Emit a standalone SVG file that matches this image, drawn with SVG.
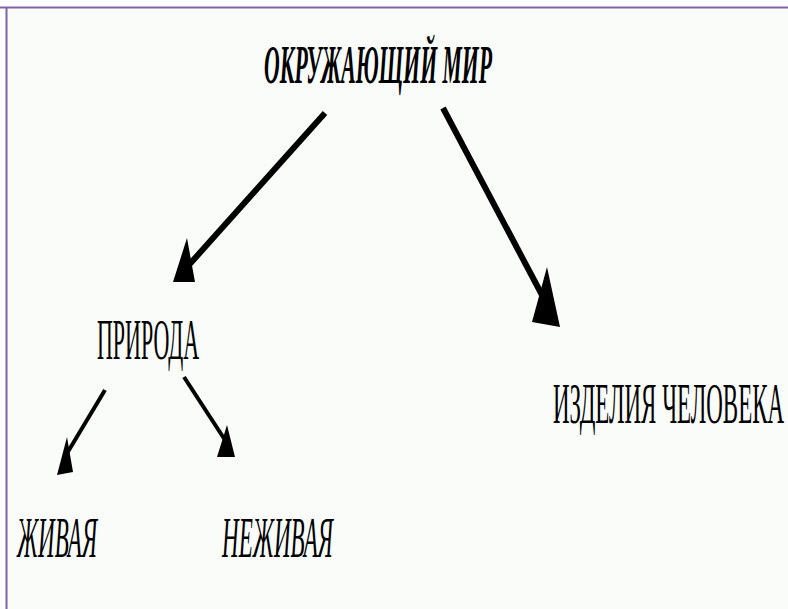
<svg xmlns="http://www.w3.org/2000/svg" width="788" height="609" viewBox="0 0 788 609">
<style>
.t{font-family:"Liberation Serif","DejaVu Serif",serif;fill:#000}
.i{font-style:italic}
.b{font-weight:bold}
.ln{stroke:#000;fill:none;stroke-linecap:butt}
.hd{fill:#000}
</style>
<rect x="0" y="0" width="788" height="609" fill="#ffffff"/>
<rect x="7" y="8" width="781" height="601" fill="#fafcfa"/>
<line x1="0" y1="7.5" x2="788" y2="7.5" stroke="#8064a2" stroke-width="2"/>
<line x1="6.5" y1="7" x2="6.5" y2="609" stroke="#8064a2" stroke-width="2"/>
<g id="node-okruzh"><text class="t i b" x="264" y="83" font-size="54" textLength="228" lengthAdjust="spacingAndGlyphs">ОКРУЖАЮЩИЙ МИР</text></g>
<g id="node-priroda"><text class="t" x="97" y="359" font-size="58" textLength="102" lengthAdjust="spacingAndGlyphs">ПРИРОДА</text></g>
<g id="node-izdelia"><text class="t" x="553" y="423" font-size="58" textLength="231" lengthAdjust="spacingAndGlyphs">ИЗДЕЛИЯ  ЧЕЛОВЕКА</text></g>
<g id="node-zhivaya"><text class="t i" x="17" y="557" font-size="58" textLength="80" lengthAdjust="spacingAndGlyphs">ЖИВАЯ</text></g>
<g id="node-nezhivaya"><text class="t i" x="222" y="557" font-size="58" textLength="111" lengthAdjust="spacingAndGlyphs">НЕЖИВАЯ</text></g>
<g id="connectors">
<line class="ln" x1="325" y1="113" x2="188" y2="266" stroke-width="6"/>
<polygon class="hd" points="187,238 173,282 195,282"/>
<line class="ln" x1="443" y1="108" x2="542" y2="295" stroke-width="6"/>
<polygon class="hd" points="547,267 532,322 560,327"/>
<line class="ln" x1="105" y1="390" x2="66" y2="455" stroke-width="4"/>
<polygon class="hd" points="67,437 57,475 73,472"/>
<line class="ln" x1="184" y1="377" x2="225" y2="440" stroke-width="4"/>
<polygon class="hd" points="227,425 217,457 235,457"/>
</g>
</svg>
